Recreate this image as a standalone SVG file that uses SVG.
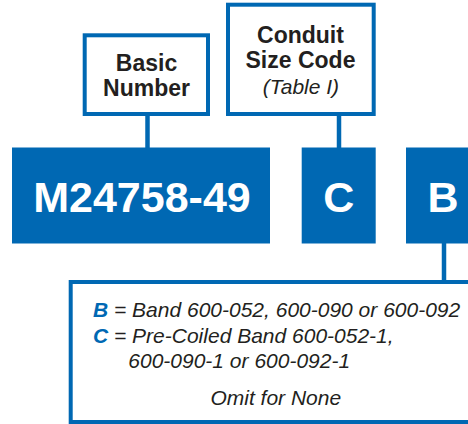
<svg xmlns="http://www.w3.org/2000/svg" width="468" height="424" viewBox="0 0 468 424">
<style>
.lbl{fill:#fff;stroke:#0068b3;stroke-width:4}
.code{fill:#0068b3}
.hd{font-family:"Liberation Sans",Arial,sans-serif;font-weight:bold;font-size:23px;fill:#231f20;text-anchor:middle}
.it{font-family:"Liberation Sans",Arial,sans-serif;font-style:italic;font-size:21px;fill:#231f20}
.big{font-family:"Liberation Sans",Arial,sans-serif;font-weight:bold;font-size:43px;fill:#fff;text-anchor:middle}
.key{font-weight:bold;fill:#0068b3}
.conn{stroke:#0068b3;stroke-width:4.5;fill:none}
</style>
<rect width="468" height="424" fill="#fff"/>
<g id="connectors">
<line class="conn" x1="147.5" y1="114" x2="147.5" y2="149"/>
<line class="conn" x1="339" y1="114" x2="339" y2="149"/>
<line class="conn" x1="444" y1="242" x2="444" y2="282"/>
</g>
<g id="basic-number">
<rect class="lbl" x="84.7" y="35.3" width="123.3" height="78.7"/>
<text class="hd" x="146.5" y="70.7">Basic</text>
<text class="hd" x="146.5" y="96">Number</text>
</g>
<g id="conduit-size-code">
<rect class="lbl" x="228" y="4.7" width="145.7" height="109.3"/>
<text class="hd" x="300.5" y="42.7">Conduit</text>
<text class="hd" x="300.5" y="68.3">Size Code</text>
<text class="it" x="301" y="93.5" text-anchor="middle" font-size="20.5">(Table I)</text>
</g>
<g id="basic-code">
<rect class="code" x="12" y="147.5" width="258" height="96"/>
<text class="big" x="142" y="211.5">M24758-49</text>
</g>
<g id="size-code">
<rect class="code" x="301.7" y="147.5" width="74" height="96"/>
<text class="big" x="338.7" y="211.5">C</text>
</g>
<g id="band-code">
<rect class="code" x="406" y="147.5" width="74" height="96"/>
<text class="big" x="443" y="211.5">B</text>
</g>
<g id="band-options">
<rect class="lbl" x="70.7" y="282" width="420" height="140" stroke-width="3.7"/>
<text class="it" x="93" y="317.3"><tspan class="key">B</tspan> = Band 600-052, 600-090 or 600-092</text>
<text class="it" x="93" y="343.3"><tspan class="key">C</tspan> = Pre-Coiled Band 600-052-1,</text>
<text class="it" x="128.3" y="368.3">600-090-1 or 600-092-1</text>
<text class="it" x="275.8" y="405" text-anchor="middle">Omit for None</text>
</g>
</svg>
